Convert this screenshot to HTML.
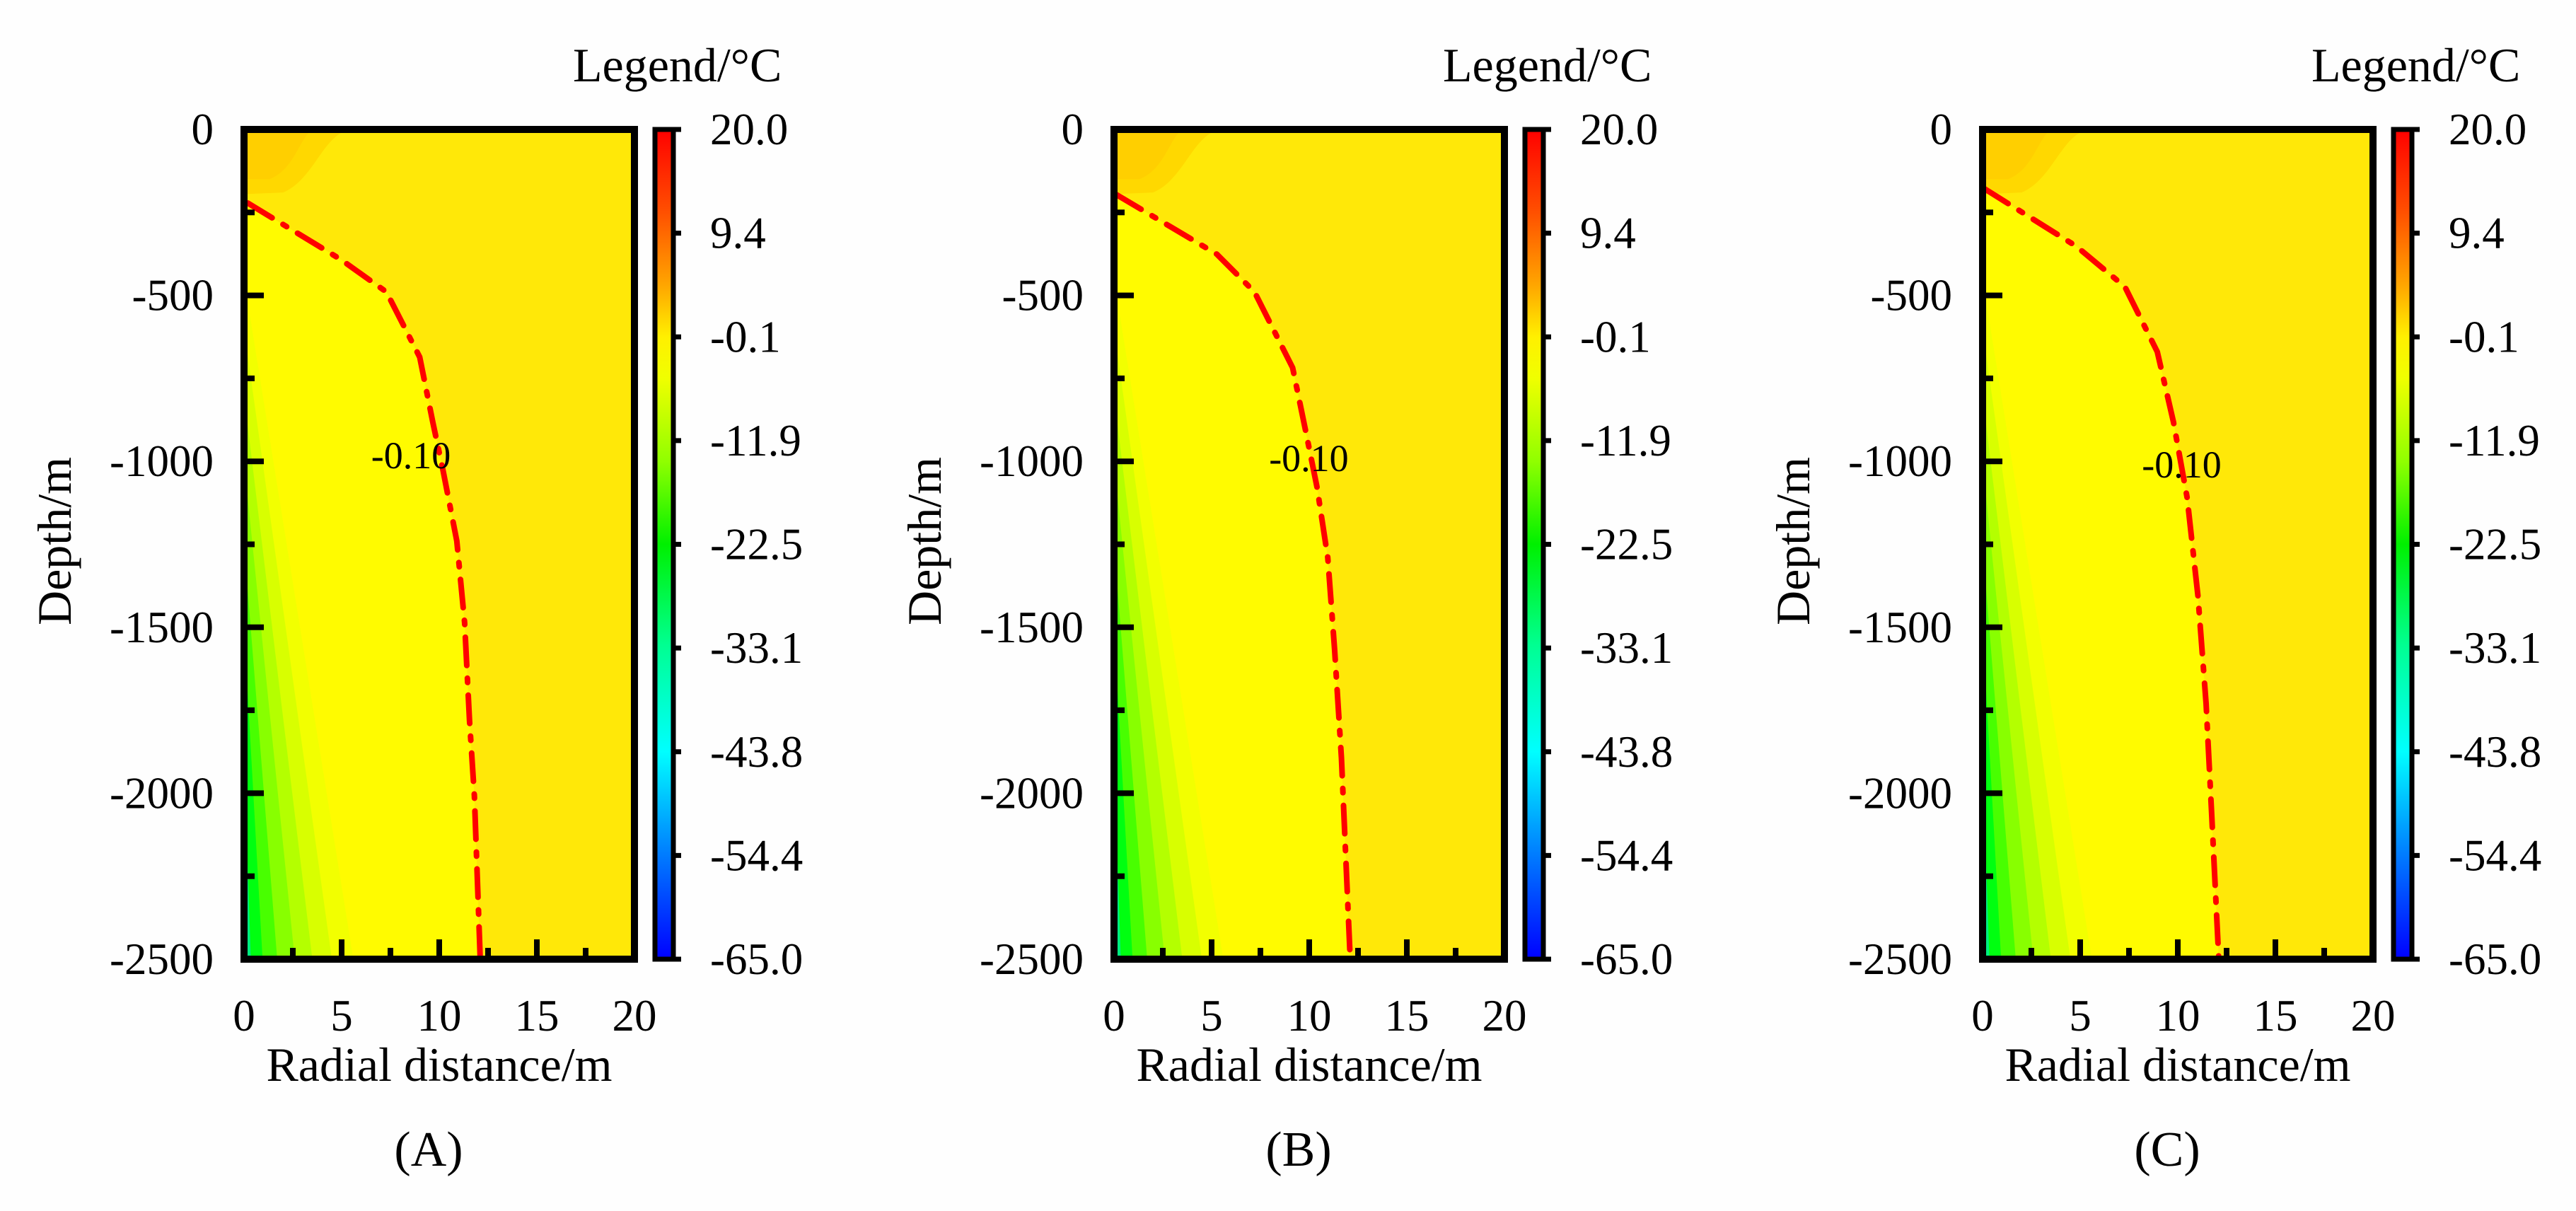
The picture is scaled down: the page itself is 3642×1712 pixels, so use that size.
<!DOCTYPE html>
<html><head><meta charset="utf-8"><style>
html,body{margin:0;padding:0;background:#fefefe;}
svg{display:block;font-family:"Liberation Serif",serif;}
</style></head><body>
<svg id="fig" width="3642" height="1712" viewBox="0 0 3642 1712" xmlns="http://www.w3.org/2000/svg">
<defs>
<linearGradient id="cbar" x1="0" y1="0" x2="0" y2="1">
<stop offset="0" stop-color="#ff0000"/><stop offset="0.1" stop-color="#ff5000"/><stop offset="0.19" stop-color="#ffa800"/>
<stop offset="0.25" stop-color="#fff000"/><stop offset="0.3" stop-color="#f0ff00"/><stop offset="0.4" stop-color="#90ff00"/>
<stop offset="0.5" stop-color="#00f000"/><stop offset="0.62" stop-color="#00ff90"/><stop offset="0.75" stop-color="#00ffff"/>
<stop offset="0.87" stop-color="#0080ff"/><stop offset="1" stop-color="#0000ff"/>
</linearGradient>
</defs>
</svg>
<script>
// ---- data ----
const panelLabels = ["(A)", "(B)", "(C)"];
const xTicks = [0, 5, 10, 15, 20];
const yTicks = [0, -500, -1000, -1500, -2000, -2500];
const cbarTicks = ["20.0", "9.4", "-0.1", "-11.9", "-22.5", "-33.1", "-43.8", "-54.4", "-65.0"];
const contourValue = "-0.10";
const curveA_x = [0.2, 4.96, 7.3, 9.0, 9.67, 10.2, 10.9, 11.3, 11.55, 11.8, 12.1];
const curveA_d = [-222, -392, -490, -686, -882, -1029, -1240, -1486, -1780, -2008, -2500];
const curveB_x = [0.14, 5.27, 7.2, 9.15, 9.84, 10.4, 10.95, 11.3, 11.65, 12.1];
const curveB_d = [-197, -376, -490, -718, -915, -1078, -1290, -1567, -1893, -2500];
const curveC_x = [0.08, 4.8, 7.29, 8.95, 9.78, 10.48, 11.03, 11.45, 11.73, 12.1];
const curveC_d = [-178, -352, -474, -670, -882, -1110, -1404, -1730, -2056, -2500];
const labelPos_x = [8.55, 9.98, 10.2];
const labelPos_d = [-1021, -1029, -1049];
// cold bands: [start depth, width at bottom (m)]
const bandStart = [-450, -600, -800, -1000, -1250, -1500, -1900];
const bandWidth = [5.6, 4.5, 3.5, 2.6, 1.7, 0.95, 0.35];
const bandColor = ["#f2ff00", "#d8ff00", "#b4ff00", "#88ff00", "#48ff00", "#00ff10", "#00ee80"];

const curvesX = [curveA_x, curveB_x, curveC_x];
const curvesD = [curveA_d, curveB_d, curveC_d];
const offsets = [0, 1230, 2458];

const NS = "http://www.w3.org/2000/svg";
const svg = document.getElementById("fig");
function el(tag, attrs, parent, text) {
  const e = document.createElementNS(NS, tag);
  for (const k in attrs) e.setAttribute(k, attrs[k]);
  if (text !== undefined) e.textContent = text;
  (parent || svg).appendChild(e);
  return e;
}
const X0 = 345, X1 = 897, Y0 = 183, Y1 = 1356;
function sx(v) { return X0 + v / 20 * (X1 - X0); }
function sy(d) { return Y0 + (-d) / 2500 * (Y1 - Y0); }

for (let p = 0; p < 3; p++) {
  const g = el("g", { transform: "translate(" + offsets[p] + ",0)" });
  
  

  const bg = el("rect", { x: X0, y: Y0, width: X1 - X0, height: Y1 - Y0, fill: "#ffe808" }, g);
  
  
  let pts = [[sx(0), sy(curvesD[p][0])]];
  for (let i = 0; i < curvesX[p].length; i++) pts.push([sx(curvesX[p][i]), sy(curvesD[p][i])]);
  pts.push([sx(0), sy(-2500)]);
  const inner = el("polygon", { points: pts.map(q => q.join(",")).join(" "), fill: "#fffb00" }, g);
  
  
  const blob1 = el("path", { d: "M" + sx(0) + "," + sy(0) + " L" + sx(5.4) + "," + sy(0) + " C" + sx(4) + "," + sy(-20) + " " + sx(3.6) + "," + sy(-150) + " " + sx(2) + "," + sy(-190) + " L" + sx(0) + "," + sy(-195) + " Z", fill: "#ffd800" }, g);
  
  
  const blob2 = el("path", { d: "M" + sx(0) + "," + sy(0) + " L" + sx(3.5) + "," + sy(0) + " C" + sx(2.8) + "," + sy(-30) + " " + sx(2.6) + "," + sy(-120) + " " + sx(1.3) + "," + sy(-150) + " L" + sx(0) + "," + sy(-150) + " Z", fill: "#ffcf00" }, g);
  
  
  for (let b = 0; b < bandStart.length; b++) {
    const poly = el("polygon", { points: sx(0) + "," + sy(bandStart[b]) + " " + sx(bandWidth[b]) + "," + sy(-2500) + " " + sx(0) + "," + sy(-2500), fill: bandColor[b] }, g);
    
    
  }
  const cpts = curvesX[p].map((v, i) => sx(v) + "," + sy(curvesD[p][i])).join(" ");
  const line = el("polyline", { points: cpts, fill: "none", stroke: "#ff0000", "stroke-width": 8, "stroke-dasharray": "40 18 6 18", "stroke-linecap": "round", "stroke-linejoin": "round" }, g);
  
  
  const cl = el("text", { x: sx(labelPos_x[p]), y: sy(labelPos_d[p]), "font-size": 54, "text-anchor": "middle", fill: "#000" }, g, contourValue);
  
  

  for (let v = -2500; v <= 0; v += 250) {
    const major = v % 500 === 0;
    const t = el("line", { x1: X0, x2: X0 + (major ? 28 : 15), y1: sy(v), y2: sy(v), stroke: "#000", "stroke-width": 8 }, g);
    
    
  }
  for (let v = 0; v <= 20; v += 2.5) {
    const major = v % 5 === 0;
    const t = el("line", { x1: sx(v), x2: sx(v), y1: Y1, y2: Y1 - (major ? 28 : 16), stroke: "#000", "stroke-width": 8 }, g);
    
    
  }
  const fr = el("rect", { x: X0, y: Y0, width: X1 - X0, height: Y1 - Y0, fill: "none", stroke: "#000", "stroke-width": 10 }, g);
  
  

  yTicks.forEach(v => {
    const t = el("text", { x: 302, y: sy(v) + 21, "font-size": 63, "text-anchor": "end" }, g, String(v));
    
    
  });
  xTicks.forEach(v => {
    const t = el("text", { x: sx(v), y: 1457, "font-size": 63, "text-anchor": "middle" }, g, String(v));
    
    
  });
  const xt = el("text", { x: 621, y: 1528, "font-size": 68, "text-anchor": "middle" }, g, "Radial distance/m");
  
  
  const yt = el("text", { x: 0, y: 0, "font-size": 68, "text-anchor": "middle", transform: "translate(100,765) rotate(-90)" }, g, "Depth/m");
  
  
  const pl = el("text", { x: 606, y: 1648, "font-size": 70, "text-anchor": "middle" }, g, panelLabels[p]);
  
  

  const cb = el("rect", { x: 926, y: Y0, width: 26, height: Y1 - Y0, fill: "url(#cbar)", stroke: "#000", "stroke-width": 7 }, g);
  
  
  cbarTicks.forEach((lab, i) => {
    const yy = Y0 + i * (Y1 - Y0) / (cbarTicks.length - 1);
    const t = el("line", { x1: 950, x2: 963, y1: yy, y2: yy, stroke: "#000", "stroke-width": 7 }, g);
    
    
    const tl = el("text", { x: 1004, y: yy + 21, "font-size": 63 }, g, lab);
    
    
  });
  const lt = el("text", { x: 810, y: 115, "font-size": 68 }, g, "Legend/°C");
  
  
}
</script>
</body></html>
